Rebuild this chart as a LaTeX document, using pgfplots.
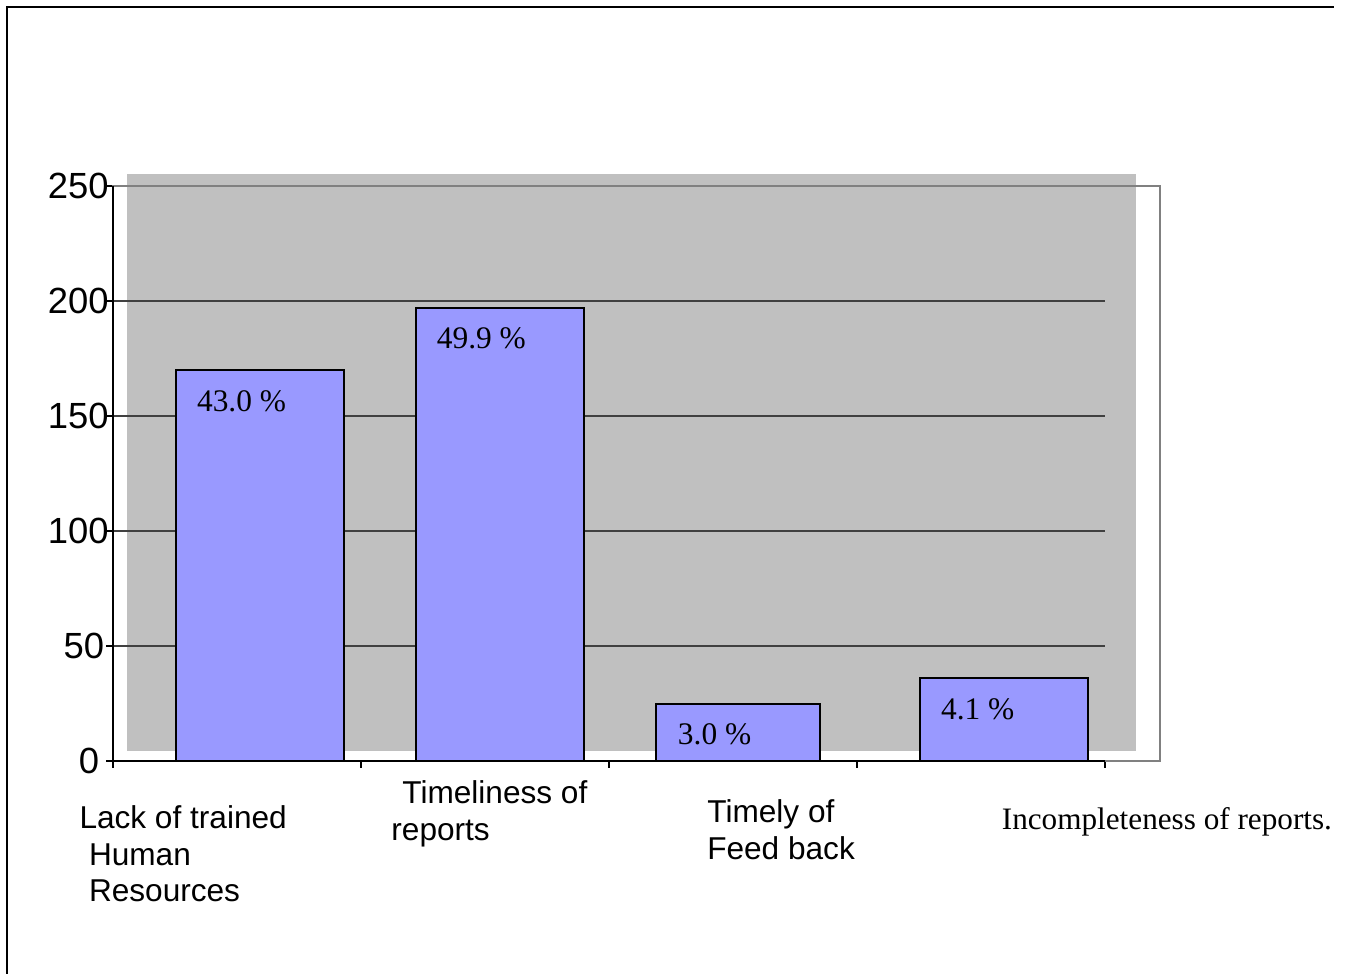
\documentclass[border=0pt]{standalone}
\usepackage{pgfplots}
\pgfplotsset{compat=1.18}
\usepackage{fontspec}
\setmainfont{Liberation Sans}
\newfontfamily\serif{Liberation Serif}
\definecolor{barblue}{HTML}{9999FF}
\definecolor{plotgrey}{HTML}{C0C0C0}
\definecolor{boxgrey}{HTML}{808080}
\newcommand\catfont{\fontsize{7.9}{9}\selectfont}

\begin{document}
\begin{tikzpicture}
% page and frame (1 unit = 0.25pt, y downwards)
\begin{scope}[x=0.25pt,y=-0.25pt]
  \path[use as bounding box] (0,0) rectangle (1350,974);
  \draw[line width=0.5pt] (7.3,974) -- (7.3,6.7) -- (1334,6.7);
\end{scope}
\begin{axis}[
  set layers,
  at={(28.25pt,-190.25pt)}, anchor=south west,
  scale only axis, width=261.75pt, height=143.75pt,
  xmin=0, xmax=4.2218, ymin=0, ymax=250,
  clip=false,
  axis line style={boxgrey, line width=0.4pt},
  tick pos=left, tick align=outside, major tick length=1.7pt,
  tick style={black, line width=0.3pt},
  xtick={0,1,2,3,4}, xticklabels={},
  ytick={0,50,100,150,200,250},
  yticklabels={0\hspace*{2.4pt},50\hspace*{1.1pt},100,150,200,250},
  yticklabel style={font=\fontsize{9.1}{10}\selectfont, inner sep=0pt, xshift=0.8pt},
]
% shaded plot area
\begin{pgfonlayer}{axis background}
  \fill[plotgrey] (axis cs:0.0565,4.35) rectangle (axis cs:4.125,255.2);
\end{pgfonlayer}
% horizontal grid lines
\begin{pgfonlayer}{axis grid}
  \draw[black!75, line width=0.3pt] (axis cs:0,50) -- (axis cs:4,50);
  \draw[black!75, line width=0.3pt] (axis cs:0,100) -- (axis cs:4,100);
  \draw[black!75, line width=0.3pt] (axis cs:0,150) -- (axis cs:4,150);
  \draw[black!75, line width=0.3pt] (axis cs:0,200) -- (axis cs:4,200);
\end{pgfonlayer}
% value axis and category axis lines
\begin{pgfonlayer}{pre main}
  \draw[black, line width=0.4pt] (axis cs:0,250) -- (axis cs:0,0) -- (axis cs:4,0);
\end{pgfonlayer}

\addplot[ybar, bar shift=0pt, bar width=0.677, fill=barblue, draw=black, line width=0.5pt,
  nodes near coords, point meta=explicit symbolic,
  nodes near coords style={font=\serif\fontsize{7.85}{9}\selectfont, anchor=base west,
    inner sep=0pt, xshift=-16pt, yshift=-10.25pt, text=black}]
  coordinates {(0.593,170) [43.0 \%] (1.560,197) [49.9 \%] (3.593,36) [4.1 \%]};
\addplot[ybar, bar shift=0pt, bar width=0.662, fill=barblue, draw=black, line width=0.5pt,
  nodes near coords, point meta=explicit symbolic,
  nodes near coords style={font=\serif\fontsize{7.85}{9}\selectfont, anchor=base west,
    inner sep=0pt, xshift=-15.25pt, yshift=-10.25pt, text=black}]
  coordinates {(2.520,25) [3.0 \%]};

% category names
\begin{scope}[every node/.style={anchor=base west, inner sep=0pt, font=\catfont}]
  \node at (axis cs:-0.1383,-29.26) {Lack of trained};
  \node at (axis cs:-0.1000,-45.22) {Human};
  \node at (axis cs:-0.1000,-61.17) {Resources};
  \node at (axis cs:1.1637,-18.39) {Timeliness of};
  \node at (axis cs:1.1194,-34.35) {reports};
  \node at (axis cs:2.3935,-26.83) {Timely of};
  \node at (axis cs:2.3931,-42.74) {Feed back};
  \node[font=\serif\fontsize{7.8}{9}\selectfont] at (axis cs:3.5810,-29.57) {Incompleteness of reports.};
\end{scope}
\end{axis}
\end{tikzpicture}
\end{document}
